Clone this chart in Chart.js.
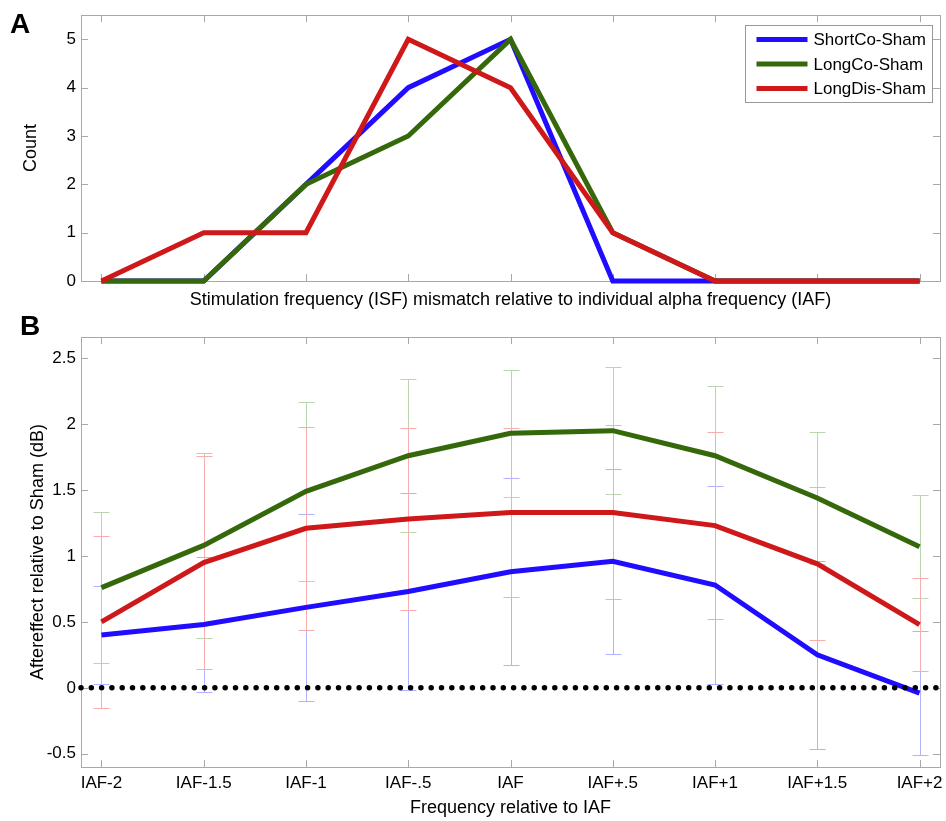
<!DOCTYPE html>
<html lang="en">
<head>
    <meta charset="UTF-8">
    <title>Aftereffect vs stimulation frequency</title>
    <script src="https://cdn.jsdelivr.net/npm/chart.js"></script>
    <style>
        body {
            margin: 0;
            background: #fff;
            font-family: "Liberation Sans", Arial, sans-serif;
        }
        #wrap { position: relative; width: 946px; height: 821px; }
        canvas { position: absolute; left: 0; }
        #chartA { top: 0; }
        #chartB { top: 312px; }
        .panel {
            position: absolute;
            font-weight: bold;
            font-size: 28px;
            line-height: 28px;
        }
    </style>
</head>
<body>
<div id="wrap">
    <canvas id="chartA" width="946" height="312"></canvas>
    <canvas id="chartB" width="946" height="509"></canvas>
    <div class="panel" style="left:10px; top:10px;">A</div>
    <div class="panel" style="left:20px; top:312px;">B</div>
</div>
<script>
    // x categories (shared by both panels)
    const categories = ['IAF-2', 'IAF-1.5', 'IAF-1', 'IAF-.5', 'IAF', 'IAF+.5', 'IAF+1', 'IAF+1.5', 'IAF+2'];
    const seriesNames = ['ShortCo-Sham', 'LongCo-Sham', 'LongDis-Sham'];

    // panel A: counts
    const countTicks = [0, 1, 2, 3, 4, 5];
    const countShortCo = [0, 0, 2, 4, 5, 0, 0, 0, 0];
    const countLongCo = [0, 0, 2, 3, 5, 1, 0, 0, 0];
    const countLongDis = [0, 1, 1, 5, 4, 1, 0, 0, 0];

    // panel B: mean aftereffect (dB) and error bar half-widths
    const effectTicks = [-0.5, 0, 0.5, 1, 1.5, 2, 2.5];
    const shortCoMean = [0.40, 0.48, 0.61, 0.73, 0.88, 0.96, 0.78, 0.25, -0.04];
    const shortCoErr = [0.37, 0.51, 0.71, 0.75, 0.71, 0.70, 0.75, 0.71, 0.47];
    const longCoMean = [0.76, 1.08, 1.49, 1.76, 1.93, 1.95, 1.76, 1.44, 1.07];
    const longCoErr = [0.57, 0.70, 0.68, 0.58, 0.48, 0.48, 0.53, 0.50, 0.39];
    const longDisMean = [0.50, 0.95, 1.21, 1.28, 1.33, 1.33, 1.23, 0.94, 0.48];
    const longDisErr = [0.65, 0.81, 0.77, 0.69, 0.64, 0.66, 0.71, 0.58, 0.35];

    const colors = ['rgb(32,12,255)', 'rgb(52,104,10)', 'rgb(206,24,26)'];
    const errColors = ['rgb(178,178,255)', 'rgb(186,214,176)', 'rgb(248,172,172)'];
    const FONT = '"Liberation Sans", Arial, sans-serif';
    const FRAME = '#a8a8a8';

    Chart.defaults.font.family = FONT;
    Chart.defaults.color = '#000';

    const toPoints = arr => arr.map((v, i) => ({ x: i, y: v }));

    // box around plot area with MATLAB-style inward ticks
    const boxPlugin = {
        id: 'box',
        beforeDatasetsDraw(chart) {
            const { ctx, chartArea: a, scales } = chart;
            ctx.save();
            ctx.strokeStyle = FRAME;
            ctx.lineWidth = 1;
            ctx.strokeRect(Math.round(a.left) + 0.5, Math.round(a.top) + 0.5,
                Math.round(a.right - a.left), Math.round(a.bottom - a.top));
            ctx.beginPath();
            scales.x.ticks.forEach(t => {
                const px = Math.round(scales.x.getPixelForValue(t.value)) + 0.5;
                ctx.moveTo(px, a.bottom); ctx.lineTo(px, a.bottom - 7);
                ctx.moveTo(px, a.top); ctx.lineTo(px, a.top + 7);
            });
            scales.y.ticks.forEach(t => {
                const py = Math.round(scales.y.getPixelForValue(t.value)) + 0.5;
                ctx.moveTo(a.left, py); ctx.lineTo(a.left + 7, py);
                ctx.moveTo(a.right, py); ctx.lineTo(a.right - 7, py);
            });
            ctx.stroke();
            ctx.restore();
        }
    };

    // thin error bars under the lines
    const errorBarPlugin = {
        id: 'errorBars',
        beforeDatasetsDraw(chart) {
            const { ctx, scales } = chart;
            ctx.save();
            ctx.lineWidth = 1;
            chart.data.datasets.forEach(ds => {
                if (!ds.errors) return;
                ctx.strokeStyle = ds.errColor;
                ds.data.forEach((p, i) => {
                    const px = Math.round(scales.x.getPixelForValue(p.x)) + 0.5;
                    const yHi = Math.round(scales.y.getPixelForValue(p.y + ds.errors[i])) + 0.5;
                    const yLo = Math.round(scales.y.getPixelForValue(p.y - ds.errors[i])) + 0.5;
                    ctx.beginPath();
                    ctx.moveTo(px, yHi); ctx.lineTo(px, yLo);
                    ctx.moveTo(px - 8, yHi); ctx.lineTo(px + 8, yHi);
                    ctx.moveTo(px - 8, yLo); ctx.lineTo(px + 8, yLo);
                    ctx.stroke();
                });
            });
            ctx.restore();
        }
    };

    // boxed legend inside the top-right corner
    const boxLegendPlugin = {
        id: 'boxLegend',
        afterDraw(chart) {
            const { ctx, chartArea: a } = chart;
            const items = chart.data.datasets.filter(ds => ds.inLegend);
            const bx = Math.round(a.right - 195) + 0.5, by = Math.round(a.top + 10) + 0.5;
            ctx.save();
            ctx.fillStyle = '#fff';
            ctx.strokeStyle = '#999';
            ctx.lineWidth = 1;
            ctx.fillRect(bx, by, 187, 77);
            ctx.strokeRect(bx, by, 187, 77);
            ctx.font = '17px ' + FONT;
            ctx.textBaseline = 'middle';
            items.forEach((ds, i) => {
                const y = by + 14 + i * 24.5;
                ctx.strokeStyle = ds.borderColor;
                ctx.lineWidth = 5;
                ctx.beginPath();
                ctx.moveTo(bx + 11, y); ctx.lineTo(bx + 62, y);
                ctx.stroke();
                ctx.fillStyle = '#000';
                ctx.fillText(ds.label, bx + 68, y + 1);
            });
            ctx.restore();
        }
    };

    function lineSet(label, values, color, order, extra) {
        return Object.assign({
            label: label,
            data: toPoints(values),
            borderColor: color,
            backgroundColor: color,
            borderWidth: 5,
            borderJoinStyle: 'miter',
            pointRadius: 0,
            tension: 0,
            clip: false,
            order: order,
            inLegend: true
        }, extra || {});
    }

    function xAxis(showLabels, titleText, height, titlePad) {
        return {
            type: 'linear',
            min: -0.2,
            max: 8.2,
            afterBuildTicks: s => { s.ticks = categories.map((c, i) => ({ value: i })); },
            afterFit: s => { s.height = height; s.paddingLeft = 0; s.paddingRight = 0; },
            grid: { display: false, drawTicks: false },
            border: { display: false },
            ticks: {
                display: showLabels,
                autoSkip: false,
                maxRotation: 0,
                padding: 6,
                font: { size: 17 },
                callback: v => categories[v]
            },
            title: { display: true, text: titleText, font: { size: 18 }, padding: { top: 0, bottom: titlePad } }
        };
    }

    function yAxis(min, max, tickValues, titleText, titlePad) {
        return {
            min: min,
            max: max,
            afterBuildTicks: s => { s.ticks = tickValues.map(v => ({ value: v })); },
            afterFit: s => { s.width = 81; },
            grid: { display: false, drawTicks: false },
            border: { display: false },
            ticks: { padding: 5, font: { size: 17 }, callback: v => String(v) },
            title: { display: true, text: titleText, font: { size: 18 }, padding: { top: titlePad, bottom: 0 } }
        };
    }

    new Chart(document.getElementById('chartA'), {
        type: 'line',
        data: {
            datasets: [
                lineSet(seriesNames[0], countShortCo, colors[0], 3),
                lineSet(seriesNames[1], countLongCo, colors[1], 2),
                lineSet(seriesNames[2], countLongDis, colors[2], 1)
            ]
        },
        options: {
            responsive: false,
            animation: false,
            layout: { padding: { top: 13, right: 6, left: 0, bottom: 0 } },
            plugins: { legend: { display: false }, tooltip: { enabled: false } },
            scales: {
                x: xAxis(false, 'Stimulation frequency (ISF) mismatch relative to individual alpha frequency (IAF)', 31, 1),
                y: yAxis(0, 5.5, countTicks, 'Count', 20)
            }
        },
        plugins: [boxPlugin, boxLegendPlugin]
    });

    new Chart(document.getElementById('chartB'), {
        type: 'line',
        data: {
            datasets: [
                lineSet(seriesNames[0], shortCoMean, colors[0], 3, { errors: shortCoErr, errColor: errColors[0] }),
                lineSet(seriesNames[1], longCoMean, colors[1], 2, { errors: longCoErr, errColor: errColors[1] }),
                lineSet(seriesNames[2], longDisMean, colors[2], 1, { errors: longDisErr, errColor: errColors[2] }),
                {
                    label: 'zero',
                    data: [{ x: -0.2, y: 0 }, { x: 8.2, y: 0 }],
                    borderColor: '#000',
                    borderWidth: 5.5,
                    borderDash: [0, 10.3],
                    borderCapStyle: 'round',
                    pointRadius: 0,
                    clip: false,
                    order: 0
                }
            ]
        },
        options: {
            responsive: false,
            animation: false,
            layout: { padding: { top: 25, right: 6, left: 0, bottom: 0 } },
            plugins: { legend: { display: false }, tooltip: { enabled: false } },
            scales: {
                x: xAxis(true, 'Frequency relative to IAF', 54, 2),
                y: yAxis(-0.6, 2.66, effectTicks, 'Aftereffect relative to Sham (dB)', 27)
            }
        },
        plugins: [boxPlugin, errorBarPlugin]
    });
</script>
</body>
</html>
